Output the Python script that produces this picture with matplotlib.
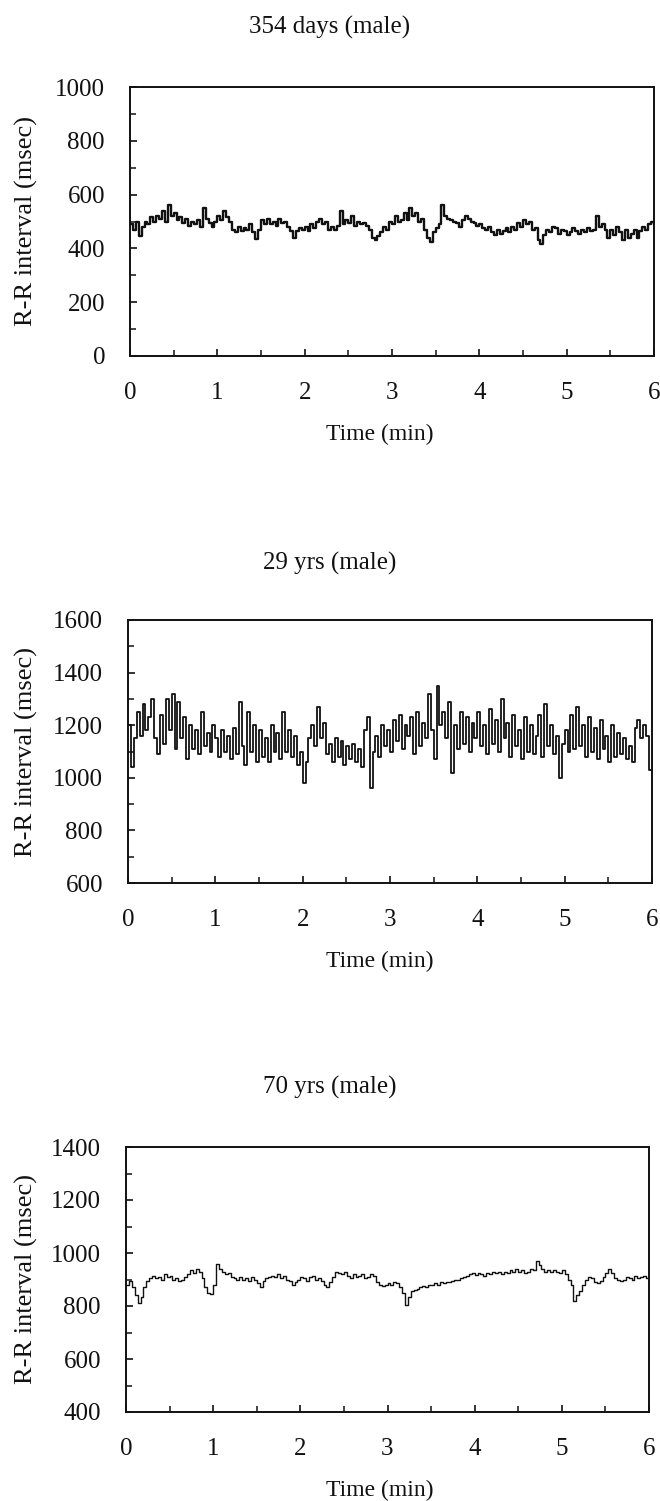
import numpy as np
import matplotlib
matplotlib.use("Agg")
import matplotlib.pyplot as plt
from matplotlib.ticker import MultipleLocator

# ---------------- data ----------------
titles = ["354 days (male)", "29 yrs (male)", "70 yrs (male)"]
y_ranges = [(0, 1000), (600, 1600), (400, 1400)]
x_ticks = [0, 1, 2, 3, 4, 5, 6]
x_label = "Time (min)"
y_label = "R-R interval (msec)"

# R-R interval every 2 s (1/30 min) from 0 to 6 min
rr_354days = [
    490, 470, 500, 445, 480, 500, 490, 515, 500, 520,
    510, 540, 500, 560, 520, 530, 505, 515, 495, 510,
    485, 500, 490, 505, 480, 550, 510, 495, 480, 500,
    520, 505, 540, 515, 500, 470, 460, 480, 465, 475,
    470, 490, 460, 435, 470, 505, 490, 510, 490, 500,
    485, 510, 495, 500, 480, 465, 440, 465, 475, 470,
    480, 465, 490, 475, 500, 510, 490, 500, 470, 480,
    470, 485, 540, 490, 505, 495, 520, 485, 500, 490,
    495, 485, 470, 440, 430, 445, 460, 480, 470, 500,
    490, 520, 500, 505, 530, 505, 550, 520, 530, 500,
    510, 470, 440, 425, 460, 475, 490, 560, 520, 510,
    505, 500, 495, 480, 505, 520, 510, 500, 495, 485,
    490, 475, 470, 480, 460, 450, 470, 455, 465, 475,
    460, 480, 470, 495, 480, 505, 490, 500, 470, 475,
    430, 415, 450, 470, 460, 480, 475, 455, 470, 465,
    450, 460, 475, 465, 455, 470, 460, 475, 465, 470,
    520, 480, 490, 470, 440, 470, 450, 480, 460, 430,
    470, 440, 455, 470, 440, 465, 480, 470, 490, 500,
    490,
]

rr_29yrs = [
    1200, 1040, 1150, 1250, 1160, 1280, 1180, 1230, 1300, 1150,
    1090, 1240, 1130, 1300, 1180, 1320, 1110, 1290, 1150, 1230,
    1070, 1200, 1110, 1180, 1090, 1250, 1120, 1170, 1100, 1200,
    1150, 1080, 1180, 1100, 1160, 1070, 1190, 1090, 1290, 1120,
    1050, 1250, 1100, 1200, 1060, 1180, 1080, 1150, 1060, 1200,
    1100, 1170, 1070, 1250, 1100, 1180, 1080, 1160, 1050, 1100,
    980, 1060, 1150, 1200, 1120, 1270, 1150, 1210, 1090, 1130,
    1060, 1150, 1080, 1140, 1050, 1120, 1070, 1130, 1060, 1110,
    1040, 1180, 1230, 960, 1100, 1160, 1080, 1200, 1120, 1180,
    1100, 1220, 1140, 1240, 1110, 1200, 1160, 1230, 1090, 1250,
    1120, 1210, 1150, 1320, 1180, 1070, 1350, 1200, 1250, 1150,
    1290, 1020, 1200, 1110, 1250, 1130, 1230, 1100, 1210, 1150,
    1250, 1120, 1200, 1090, 1260, 1130, 1220, 1100, 1300, 1150,
    1210, 1080, 1240, 1120, 1180, 1070, 1230, 1100, 1200, 1090,
    1160, 1240, 1080, 1280, 1120, 1200, 1090, 1160, 1000, 1130,
    1180, 1100, 1240, 1110, 1270, 1120, 1200, 1080, 1230, 1100,
    1190, 1070, 1220, 1110, 1160, 1060, 1200, 1080, 1170, 1090,
    1150, 1070, 1120, 1060, 1190, 1220, 1150, 1200, 1160, 1030,
    1030,
]

rr_70yrs = [
    880, 895, 870, 840, 810, 835, 870, 895, 905, 915,
    905, 910, 900, 920, 910, 915, 900, 905, 895, 900,
    910, 920, 935, 925, 940, 930, 905, 870, 850, 845,
    880, 960, 940, 930, 920, 925, 910, 905, 900, 910,
    900, 905, 895, 910, 900, 885, 870, 895, 905, 910,
    915, 910, 920, 905, 915, 900, 895, 880, 890, 900,
    910, 905, 895, 910, 915, 900, 905, 895, 880, 870,
    890, 910, 930, 925, 920, 930, 915, 905, 920, 910,
    915, 920, 905, 910, 920, 915, 890, 880, 875, 880,
    885, 880, 890, 885, 870, 850, 805, 835, 855, 860,
    865, 870, 875, 870, 880, 878, 885, 880, 890, 888,
    892, 890, 895, 900, 898, 905, 910, 915, 920, 925,
    918, 925, 920, 915, 925, 920, 930, 925, 928, 922,
    930, 925, 935, 930, 938, 930, 935, 925, 930, 940,
    935, 970, 955, 940, 930, 935, 928, 935, 930, 925,
    935, 920, 900, 880, 820, 840, 855, 880, 900, 910,
    905, 890, 885, 895, 910, 925, 940, 925, 905, 900,
    895, 900, 910, 905, 900, 915, 905, 910, 915, 905,
    910,
]

series = [rr_354days, rr_29yrs, rr_70yrs]

# ---------------- layout ----------------
W, H = 660, 1501
fig = plt.figure(figsize=(W / 100, H / 100), dpi=100)
fig.patch.set_facecolor("white")

FONT = "Liberation Serif"
INK = "#111111"
# pixel boxes: left, right, top, bottom
boxes = [(130, 654, 87, 356), (128, 652, 620, 883), (126, 649, 1147, 1412)]
title_y = [27, 563, 1087]
line_w = [1.7, 1.3, 1.0]

for k, (vals, (l, r, t, b)) in enumerate(zip(series, boxes)):
    ax = fig.add_axes([l / W, 1 - b / H, (r - l) / W, (b - t) / H])
    v = np.asarray(vals, dtype=float)
    tm = np.linspace(0, 6, len(v))
    ax.plot(tm, v, drawstyle="steps-post", color=INK, lw=line_w[k])
    ax.set_xlim(0, 6)
    ax.set_ylim(*y_ranges[k])
    ax.set_xticks(x_ticks)
    ax.xaxis.set_minor_locator(MultipleLocator(0.5))
    ax.yaxis.set_major_locator(MultipleLocator(200))
    ax.yaxis.set_minor_locator(MultipleLocator(100))
    ax.tick_params(axis="both", which="both", direction="in",
                   top=False, right=False, colors=INK)
    ax.tick_params(axis="both", which="major", length=5, width=1.2)
    ax.tick_params(axis="both", which="minor", length=4, width=1.1)
    ax.tick_params(axis="x", which="major", pad=19)
    ax.tick_params(axis="y", which="major", pad=18)
    for lab in ax.get_xticklabels() + ax.get_yticklabels():
        lab.set_fontfamily(FONT)
        lab.set_fontsize(18)
    for sp in ax.spines.values():
        sp.set_linewidth(1.4)
        sp.set_color(INK)

    fig.text(330 / W, 1 - title_y[k] / H, titles[k], ha="center", va="center",
             fontsize=18, family=FONT, color=INK)
    fig.text(380 / W, 1 - (b + 78) / H, x_label, ha="center", va="center",
             fontsize=17, family=FONT, color=INK)
    fig.text(26 / W, 1 - (t + b) / 2 / H, y_label, ha="center", va="center",
             rotation=90, fontsize=19, family=FONT, color=INK)

fig.savefig("out.png", dpi=100, facecolor="white")
